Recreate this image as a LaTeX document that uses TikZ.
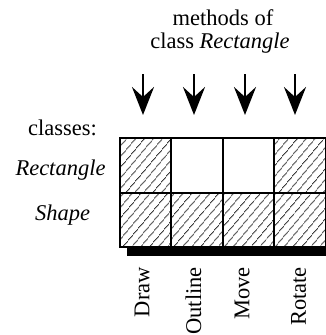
\documentclass[tikz,border=0pt]{standalone}
\usepackage{fontspec}
\setmainfont{Liberation Serif}
\usetikzlibrary{positioning, arrows.meta, patterns.meta}

\tikzset{
	txt/.style={font=\fontsize{22.5}{24}\selectfont, inner sep=0pt},
	cell/.style={draw, line width=2pt, minimum width=51.5pt, minimum height=54.2pt, inner sep=0pt},
	hatched/.style={cell, pattern={Lines[angle=50, distance=6.5pt, line width=1pt]}, pattern color=black!80},
	method/.style={line width=2.8pt, -{Stealth[length=28pt, width=22pt, inset=10pt]}},
	vlabel/.style={txt, rotate=90, anchor=east},
}

\begin{document}
\begin{tikzpicture}[x=1pt, y=-1pt]
		\useasboundingbox (0,0) rectangle (326,335);
		% heading
		\node[txt, anchor=base] (head1) at (223, 25) {methods of};
		\node[txt, anchor=base] (head2) at (220, 48) {class \textit{Rectangle}};
		% arrows to the columns
		\coordinate (a1) at (143, 74);  \coordinate (b1) at (143, 115);
		\coordinate (a2) at (194, 74);  \coordinate (b2) at (194, 115);
		\coordinate (a3) at (245, 74);  \coordinate (b3) at (245, 115);
		\coordinate (a4) at (295, 74);  \coordinate (b4) at (295, 115);
		\draw[method] (a1) -- (b1);
		\draw[method] (a2) -- (b2);
		\draw[method] (a3) -- (b3);
		\draw[method] (a4) -- (b4);
		% row labels
		\node[txt, anchor=base] (classes) at (62.5, 135) {classes:};
		\node[txt, anchor=base] (rectlbl) at (60.5, 175) {\textit{Rectangle}};
		\node[txt, anchor=base] (shapelbl) at (62.5, 220) {\textit{Shape}};
		% shadow under the table
		\fill (127, 247) rectangle (326, 255.5);
		% table
		\node[hatched] (rect-draw) at (145.25, 165.4) {};
		\node[cell] (rect-outline) at (196.75, 165.4) {};
		\node[cell] (rect-move) at (248.25, 165.4) {};
		\node[hatched] (rect-rotate) at (299.75, 165.4) {};
		\node[hatched] (shape-draw) at (145.25, 219.6) {};
		\node[hatched] (shape-outline) at (196.75, 219.6) {};
		\node[hatched] (shape-move) at (248.25, 219.6) {};
		\node[hatched] (shape-rotate) at (299.75, 219.6) {};
		% method names
		\node[vlabel] (draw) at (142, 267) {Draw};
		\node[vlabel] (outline) at (193.5, 267) {Outline};
		\node[vlabel] (move) at (242, 267) {Move};
		\node[vlabel] (rotate) at (298.5, 267) {Rotate};
	\end{tikzpicture}
\end{document}
